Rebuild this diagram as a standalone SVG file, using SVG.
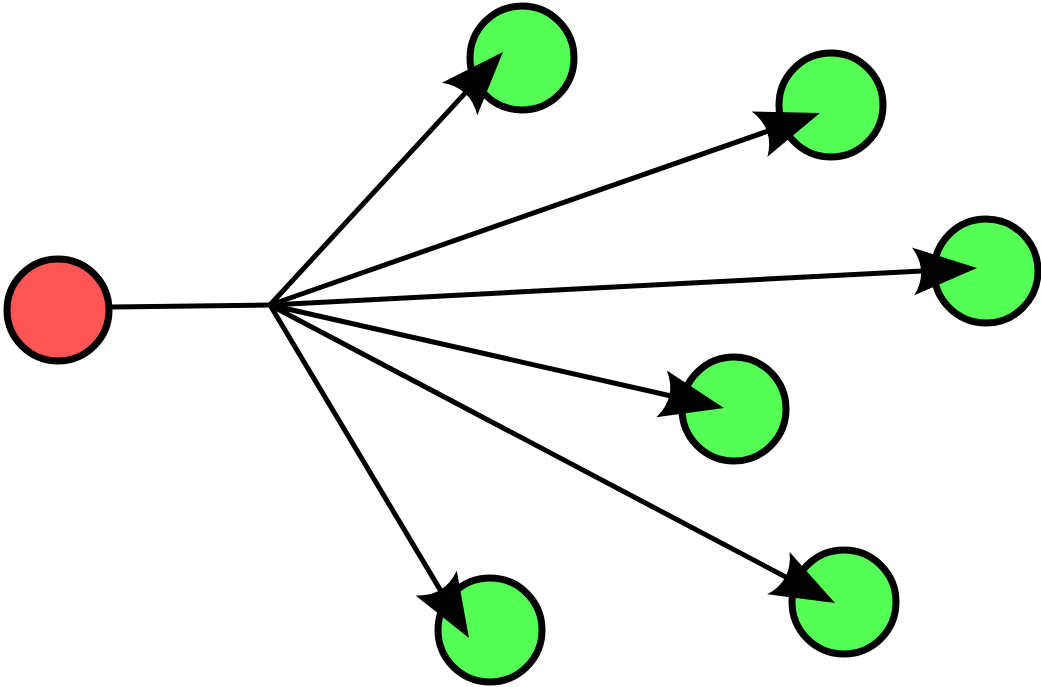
<svg xmlns="http://www.w3.org/2000/svg" width="1041" height="687" viewBox="0 0 1041 687">
<style>
.node{stroke:#000;stroke-width:7}
.src{fill:#ff5555}
.dst{fill:#55ff55}
.edge{stroke:#000;stroke-width:5;fill:none}
.arrow{marker-end:url(#head)}
</style>
<defs>
<marker id="head" markerUnits="userSpaceOnUse" markerWidth="10" markerHeight="10" refX="0" refY="0" orient="auto" overflow="visible">
<path d="M45,0 L-19,-24 Q-3,0 -19,24 Z" fill="#000"/>
</marker>
</defs>
<rect width="1041" height="687" fill="#fff"/>
<g id="n0"><circle class="node src" cx="58" cy="310" r="51"/></g>
<g id="n1"><circle class="node dst" cx="522" cy="58" r="52"/></g>
<g id="n2"><circle class="node dst" cx="831" cy="105" r="52"/></g>
<g id="n3"><circle class="node dst" cx="986" cy="271" r="52"/></g>
<g id="n4"><circle class="node dst" cx="734" cy="409" r="52"/></g>
<g id="n5"><circle class="node dst" cx="844" cy="602" r="52"/></g>
<g id="n6"><circle class="node dst" cx="490" cy="630" r="52"/></g>
<g id="connectors">
<line class="edge" x1="112" y1="307" x2="270" y2="305"/>
<line class="edge arrow" x1="270" y1="305" x2="472.5" y2="85.1"/>
<line class="edge arrow" x1="270" y1="305" x2="777.5" y2="127.8"/>
<line class="edge arrow" x1="270" y1="305" x2="932.1" y2="270.4"/>
<line class="edge arrow" x1="270" y1="305" x2="680.1" y2="398.0"/>
<line class="edge arrow" x1="270" y1="305" x2="795.2" y2="582.0"/>
<line class="edge arrow" x1="270" y1="305" x2="445.9" y2="599.4"/>
</g>
</svg>
